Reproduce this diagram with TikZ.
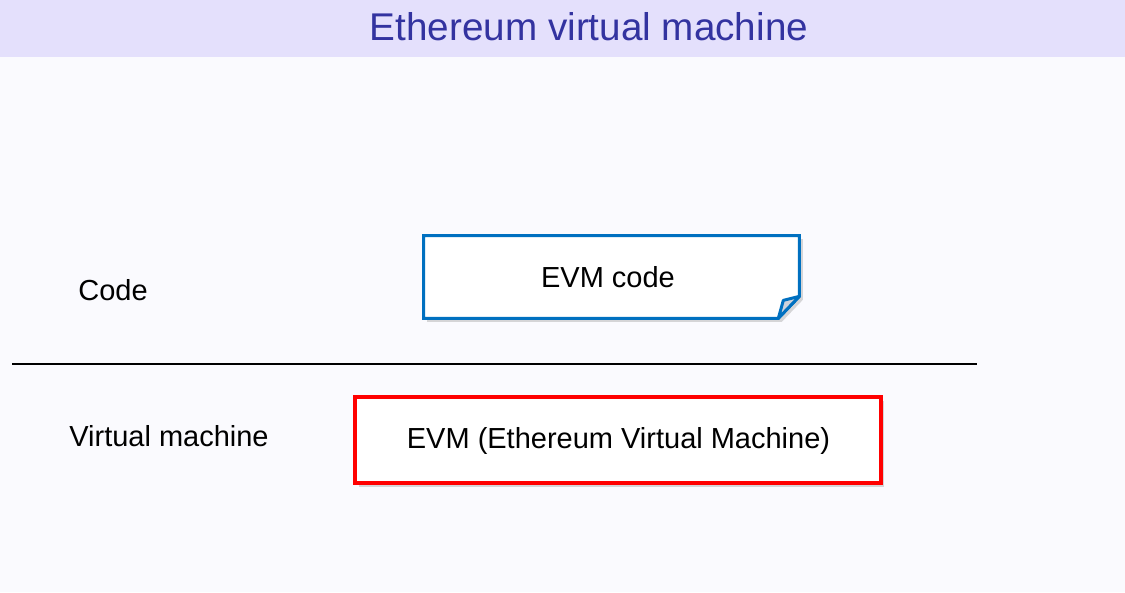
\documentclass[tikz,border=0pt]{standalone}
\usepackage{fontspec}
\setmainfont{Liberation Sans}
\usetikzlibrary{calc,shadows}
\definecolor{bandcol}{RGB}{228,224,252}
\definecolor{titlecol}{RGB}{51,51,160}
\definecolor{pagecol}{RGB}{250,250,254}
\definecolor{codecol}{RGB}{0,112,192}
\definecolor{vmcol}{RGB}{255,0,0}
\definecolor{flapcol}{RGB}{205,210,220}
\tikzset{
  layer/.style={font=\fontsize{16.5}{19}\selectfont, anchor=center},
  box/.style={font=\fontsize{16.5}{19}\selectfont, minimum height=1.64cm, inner sep=0pt},
  shade/.style={drop shadow={opacity=0.3, shadow xshift=0.07cm, shadow yshift=-0.07cm}}
}
\begin{document}
\begin{tikzpicture}[x=0.02cm,y=-0.02cm]
	\useasboundingbox (0,0) rectangle (1125,592);
	\fill[pagecol] (0,0) rectangle (1125,592);
	\fill[bandcol] (0,0) rectangle (1125,57);
	\node[font=\fontsize{22}{26}\selectfont, text=titlecol] (title) at (589,27) {Ethereum virtual machine};
	% layer names
	\node[layer] (codelabel) at (113,290) {Code};
	\node[layer] (vmlabel) at (169,436) {Virtual machine};
	% separator
	\coordinate (sepl) at (12,364);
	\coordinate (sepr) at (977,364);
	\draw[line width=0.8pt] (sepl)--(sepr);
	% code document with folded corner
	\node[box, minimum width=7.5cm] (code) at (611.5,277) {};
	\draw[codecol, line width=1.7pt, fill=white, shade] (code.north west)--(code.north east)--($(code.south east)+(0,-22)$)--($(code.south east)+(-21,0)$)--(code.south west)--cycle;
	\draw[codecol, line width=1.7pt, fill=flapcol, line join=round] ($(code.south east)+(-21,0)$)--($(code.south east)+(-16,-18)$)--($(code.south east)+(0,-22)$)--cycle;
	\node[font=\fontsize{16.5}{19}\selectfont] (codetext) at (608,277) {EVM code};
	% virtual machine
	\node[box, minimum width=10.52cm, minimum height=1.72cm, draw=vmcol, line width=1.8pt, fill=white, shade] (evm) at (618,440) {};
	\node[font=\fontsize{16.5}{19}\selectfont] (evmtext) at (618.5,441) {EVM (Ethereum Virtual Machine)};
\end{tikzpicture}
\end{document}
